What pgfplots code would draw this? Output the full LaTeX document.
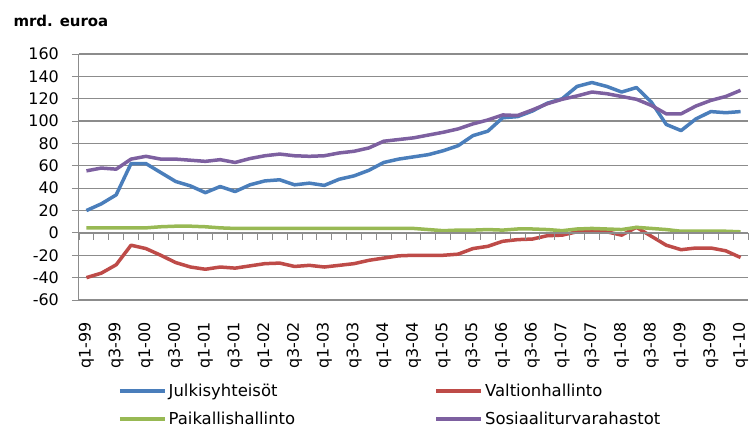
\documentclass[border=0pt]{standalone}
\usepackage{pgfplots}
\usepackage{pgfplotstable}
\pgfplotsset{compat=1.18}
\usepackage{fontspec}
\setmainfont{DejaVu Sans}
\definecolor{cJ}{HTML}{4A7EBB}
\definecolor{cV}{HTML}{BE4B48}
\definecolor{cP}{HTML}{98B954}
\definecolor{cS}{HTML}{7D60A0}
\definecolor{gridc}{HTML}{8C8C8C}

\pgfplotstableread{
x J V P S
0 20 -40 4.5 55.5
1 26 -36 4.5 58
2 34 -28.5 4.5 57
3 62 -11 4.5 66
4 62 -14 4.5 68.5
5 54 -20 5.5 66
6 46 -26.5 6 66
7 42 -30.5 6 65
8 36 -32.5 5.5 64
9 41.5 -30.5 4.5 65.5
10 37 -31.5 4 63
11 43 -29.5 4 66.5
12 46.5 -27.5 4 69
13 47.5 -27 4 70.5
14 43 -30 4 69
15 44.5 -29 4 68.5
16 42.5 -30.5 4 69
17 48 -29 4 71.5
18 51 -27.5 4 73
19 56 -24.5 4 76
20 63 -22.5 4 82
21 66 -20.5 4 83.5
22 68 -20 4 85
23 70 -20 3 87.5
24 73.5 -20 2 90
25 78 -19 2.5 93
26 87 -14 2.5 97.5
27 91 -12 3 101
28 103 -7.5 2.5 105.5
29 104 -6 3.5 105
30 109 -5.5 3.5 110
31 116 -2.5 3 115.5
32 120 -2 2 119.5
33 131 1 3.5 122.5
34 134.5 1.5 4 126
35 131 1 3.5 124.5
36 126 -2 3 122
37 130 5 5 119.5
38 117 -3 4 114
39 97 -11 3 106.5
40 91.5 -15 1.5 106.5
41 102 -13.5 1.5 113.5
42 108.5 -13.5 1.5 118.5
43 107.5 -16 1.5 122
44 108.5 -22 1 127.5
}\datatable

\begin{document}
\begin{tikzpicture}
\begin{axis}[name=ax, scale only axis, width=669bp, height=246bp,
  xmin=-0.5, xmax=44.5, ymin=-60, ymax=160,
  ytick={-60,-40,...,160},
  axis x line*=bottom, axis y line*=left,
  axis line style={gridc, line width=1bp},
  ymajorgrids, grid style={gridc, line width=1.2bp},
  xtick={0,2,...,44},
  xticklabels={q1-99,q3-99,q1-00,q3-00,q1-01,q3-01,q1-02,q3-02,q1-03,q3-03,q1-04,q3-04,q1-05,q3-05,q1-06,q3-06,q1-07,q3-07,q1-08,q3-08,q1-09,q3-09,q1-10},
  xtick style={draw=none},
  ytick style={gridc, line width=1bp},
  tick align=outside, major tick length=7bp,
  /pgf/number format/assume math mode=true,
  x tick label style={rotate=90, anchor=east, inner sep=0pt, font=\fontsize{16}{19}\selectfont},
  xticklabel shift=15bp,
  y tick label style={inner sep=0pt, font=\fontsize{16}{19}\selectfont},
  yticklabel shift=13bp,
  legend columns=2,
  legend cell align=left,
  legend style={draw=none, fill=none, at={(axis description cs:0,0)}, anchor=north west,
    xshift=39bp, yshift=-82bp, row sep=10bp, inner sep=0pt,
    font=\fontsize{16.5}{19}\selectfont},
  legend image code/.code={\draw[#1] (0bp,0bp) -- (45bp,0bp);},
  every axis plot/.append style={line width=3.5bp, no marks, line join=round},
]
\addplot[cJ] table[x=x, y=J] {\datatable};
\addlegendentry{\makebox[264bp][l]{Julkisyhteisöt}}
\addplot[cV] table[x=x, y=V] {\datatable};
\addlegendentry{Valtionhallinto}
\addplot[cP] table[x=x, y=P] {\datatable};
\addlegendentry{\makebox[264bp][l]{Paikallishallinto}}
\addplot[cS] table[x=x, y=S] {\datatable};
\addlegendentry{Sosiaaliturvarahastot}
\end{axis}
\begin{axis}[at={(ax.south west)}, anchor=south west, scale only axis, width=669bp, height=246bp,
  xmin=-0.5, xmax=44.5, ymin=-60, ymax=160,
  axis x line*=middle, axis y line=none,
  xtick={-0.5,0.5,...,44.5},
  xticklabels={},
  tick align=outside, major tick length=7bp,
  axis line style={gridc, line width=1.2bp},
  xtick style={gridc, line width=1bp},
]
\end{axis}
\node[anchor=base west, font=\bfseries\fontsize{15}{18}\selectfont] at ([shift={(-69bp,28bp)}]ax.north west) {mrd. euroa};
\pgfresetboundingbox
\path ([shift={(-79bp,-128bp)}]ax.south west) rectangle ([shift={(4bp,54bp)}]ax.north east);
\end{tikzpicture}
\end{document}
